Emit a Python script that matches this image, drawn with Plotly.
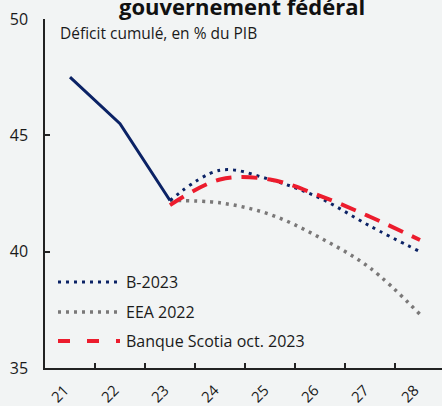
import plotly.graph_objects as go

years = ["21", "22", "23", "24", "25", "26", "27", "28"]
historique = [47.5, 45.5, 42.2]
b2023 = [42.2, 43.5, 43.1, 42.3, 41.1, 40.0]
eea2022 = [42.2, 42.1, 41.6, 40.6, 39.3, 37.3]
scotia = [42.0, 43.1, 43.1, 42.4, 41.5, 40.5]
proj_years = years[2:]

navy = "#0b2265"
gray = "#7a7878"
red = "#ec1c2d"
bg = "#f2f4f4"
font_family = "Open Sans"

fig = go.Figure()
fig.add_trace(go.Scatter(x=years[:3], y=historique, mode="lines",
                         line=dict(color=navy, width=3), showlegend=False))
fig.add_trace(go.Scatter(x=proj_years, y=eea2022, mode="lines", line_shape="spline",
                         line=dict(color=gray, width=3.5, dash="3px,5px"), showlegend=False))
fig.add_trace(go.Scatter(x=proj_years, y=b2023, mode="lines", line_shape="spline",
                         line=dict(color=navy, width=3, dash="3px,5px"), showlegend=False))
fig.add_trace(go.Scatter(x=proj_years, y=scotia, mode="lines", line_shape="spline",
                         line=dict(color=red, width=4, dash="16px,10px"), showlegend=False))

L, T, B, R = 45, 19, 38, 0
W, H = 442, 406
pw, ph = W - L - R, H - T - B

def px(x):
    return (x - L) / pw

def py(y):
    return (H - B - y) / ph

legend_items = [("B-2023", navy, 3, "3px,5px", 282),
                ("EEA 2022", gray, 3.5, "3px,5px", 312),
                ("Banque Scotia oct. 2023", red, 4, "12px,17px", 341)]
for name, col, w, dash, yy in legend_items:
    fig.add_shape(type="line", xref="paper", yref="paper",
                  x0=px(58), x1=px(120), y0=py(yy), y1=py(yy),
                  line=dict(color=col, width=w, dash=dash))
    fig.add_annotation(xref="paper", yref="paper", x=px(124), y=py(yy),
                       text=name, showarrow=False, xanchor="left", yanchor="middle",
                       font=dict(size=16, color="#1a1a1a", family=font_family))

fig.add_annotation(xref="paper", yref="paper", x=px(58), y=py(33),
                   text="Déficit cumulé, en % du PIB", showarrow=False,
                   xanchor="left", yanchor="middle",
                   font=dict(size=15.5, color="#1a1a1a", family=font_family))
fig.add_annotation(xref="paper", yref="paper", x=px(242), y=1, yshift=-4,
                   text="<b>gouvernement fédéral</b>", showarrow=False,
                   xanchor="center", yanchor="bottom",
                   font=dict(size=22, color="#111111", family=font_family))

tick_text = [y + "\u00a0\u00a0" for y in years]

fig.update_layout(
    width=W, height=H,
    margin=dict(l=L, r=R, t=T, b=B, pad=0),
    paper_bgcolor=bg, plot_bgcolor=bg,
    font=dict(family=font_family, size=15, color="#1a1a1a"),
    xaxis=dict(type="category", range=[-0.5, 7.44], tickson="boundaries",
               tickmode="array", tickvals=years, ticktext=tick_text,
               ticks="inside", ticklen=5, tickwidth=1.5, tickcolor="#222",
               showline=True, linecolor="#222", linewidth=2, showgrid=False,
               tickangle=-45, tickfont=dict(size=15), zeroline=False),
    yaxis=dict(range=[35, 50], dtick=5, ticks="inside", ticklen=5, tickwidth=1.5,
               tickcolor="#222", showline=True, linecolor="#222", linewidth=1.5,
               showgrid=False, zeroline=False, tickfont=dict(size=16),
               ticklabelstandoff=12),
)

fig.write_html("out.html")
